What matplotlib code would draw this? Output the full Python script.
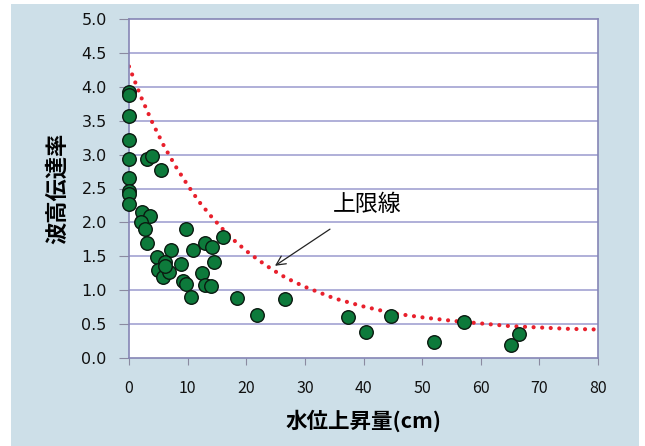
import matplotlib
matplotlib.use("Agg")
import matplotlib.pyplot as plt
from matplotlib.patches import Rectangle

plt.rcParams['font.family'] = ['Noto Sans CJK JP', 'DejaVu Sans']

# scatter data: water level rise (cm) vs wave transmission ratio
x_obs = [0, 0, 0, 0, 0, 0, 0, 0, 0,
         3.0, 4.0, 5.4, 2.2, 3.5, 2.05, 2.7, 3.0, 9.7, 4.7, 7.1,
         6.1, 5.0, 5.75, 6.9, 6.1, 8.8, 9.2, 9.8, 10.5, 11.0,
         13.0, 14.1, 14.5, 12.5, 13.0, 14.0, 16.1, 18.5, 21.8, 26.6,
         37.4, 40.4, 44.7, 52.0, 57.2, 65.2, 66.5]
y_obs = [3.93, 3.88, 3.57, 3.22, 2.94, 2.66, 2.46, 2.42, 2.27,
         2.93, 2.98, 2.78, 2.16, 2.09, 2.00, 1.90, 1.70, 1.90, 1.49, 1.60,
         1.42, 1.30, 1.19, 1.27, 1.35, 1.39, 1.14, 1.09, 0.90, 1.59,
         1.69, 1.63, 1.42, 1.26, 1.08, 1.06, 1.78, 0.88, 0.63, 0.87,
         0.61, 0.39, 0.62, 0.24, 0.53, 0.19, 0.36]

# upper limit curve
x_lim = [0, 2, 4, 6, 8, 10, 12, 14, 16, 18, 20, 22, 24, 26, 28, 30,
         35, 40, 45, 50, 55, 60, 65, 70, 75, 80]
y_lim = [4.30, 3.86, 3.47, 3.12, 2.82, 2.55, 2.30, 2.09, 1.90, 1.73, 1.58,
         1.45, 1.33, 1.22, 1.13, 1.05, 0.88, 0.76, 0.66, 0.60, 0.55, 0.51,
         0.47, 0.45, 0.43, 0.42]

x_ticks = [0, 10, 20, 30, 40, 50, 60, 70, 80]
y_ticks = [0.0, 0.5, 1.0, 1.5, 2.0, 2.5, 3.0, 3.5, 4.0, 4.5, 5.0]

fig = plt.figure(figsize=(6.45, 4.46), dpi=100)
fig.patch.set_facecolor('white')
fig.patches.append(Rectangle((11/645, 0), (639-11)/645, (446-4)/446,
                             transform=fig.transFigure, facecolor='#cddfe8',
                             edgecolor='none', zorder=-10))

ax = fig.add_axes([129/645, 88/446, (598-129)/645, (358-19)/446])
ax.set_facecolor('white')

for yv in y_ticks[1:-1]:
    ax.axhline(yv, color='#a9a9d6', lw=1.3, zorder=1)

ax.plot(x_lim, y_lim, color='#e8202c', lw=3.0, linestyle=(0, (0.01, 2.05)),
        dash_capstyle='round', solid_capstyle='round', zorder=2)

ax.scatter(x_obs, y_obs, s=95, facecolor='#0d7a3b', edgecolor='#0a1a10',
           linewidth=1.0, zorder=4, clip_on=False)

ax.set_xlim(0, 80)
ax.set_ylim(0, 5.0)
ax.set_xticks(x_ticks)
ax.set_yticks(y_ticks)
ax.set_xticklabels([str(v) for v in x_ticks], fontsize=11.5)
ax.set_yticklabels([f"{v:.1f}" for v in y_ticks], fontsize=11.5, family='DejaVu Sans')
for s in ax.spines.values():
    s.set_color('#8585b5')
    s.set_linewidth(1.2)
ax.tick_params(axis='x', direction='out', length=5, color='#8a8aa0', pad=11, labelcolor='#111111')
ax.tick_params(axis='y', direction='out', length=7, color='#8a8aa0', pad=9, labelcolor='#111111')

ax.set_xlabel('水位上昇量(cm)', fontsize=15.5, fontweight='bold', labelpad=9)
ax.set_ylabel('波高伝達率', fontsize=16, fontweight='bold', labelpad=9)

ax.annotate('上限線', xy=(24.9, 1.36), xytext=(40.7, 2.27),
            fontsize=16.5, ha='center', va='center',
            arrowprops=dict(arrowstyle='->', color='#222222', lw=0.9,
                            shrinkA=14, shrinkB=0))

fig.savefig('out.png', dpi=100, facecolor=fig.get_facecolor())
